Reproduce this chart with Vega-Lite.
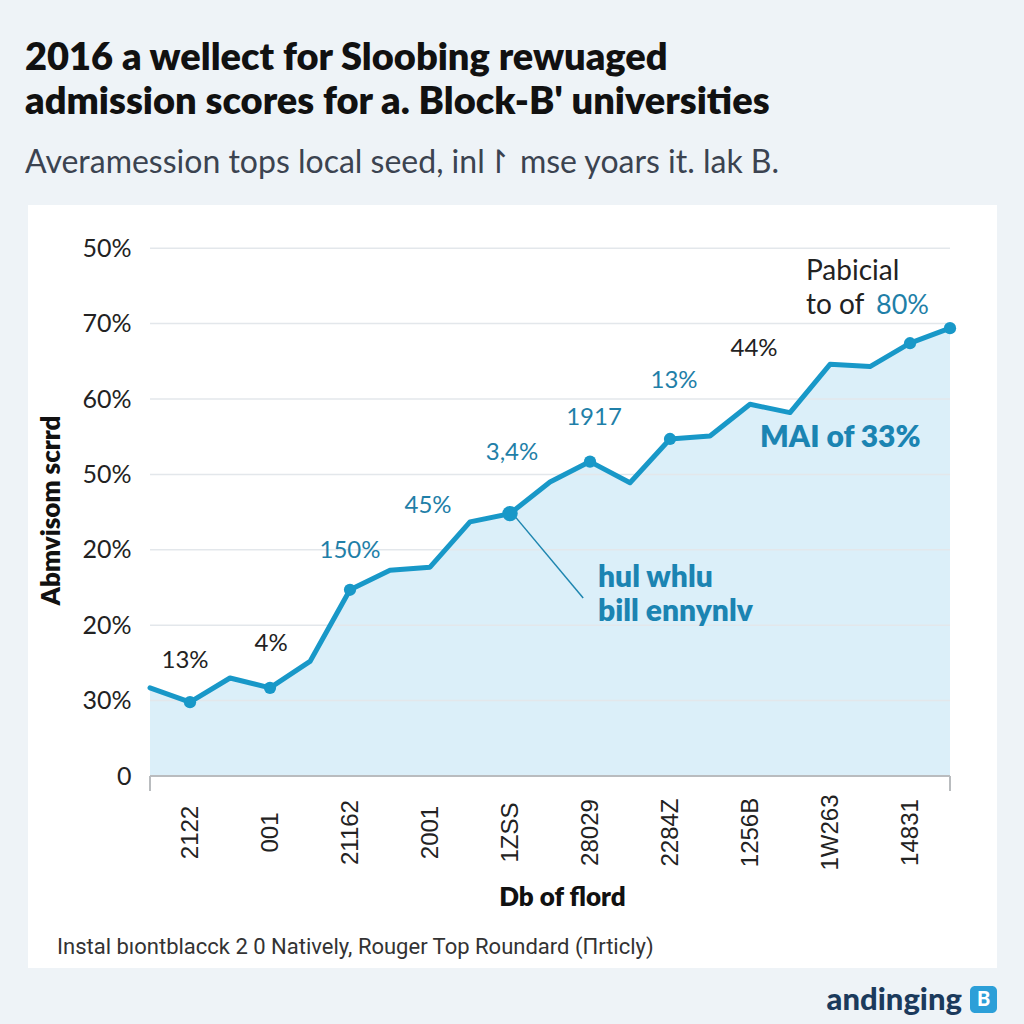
{
  "$schema": "https://vega.github.io/schema/vega-lite/v6.json",
  "width": 969,
  "height": 763,
  "autosize": {"type": "none"},
  "padding": {"left": 28, "top": 205, "right": 27, "bottom": 56},
  "background": "#eef3f7",
  "config": {
    "view": {"stroke": null, "fill": "#ffffff"},
    "font": "Lato"
  },
  "title": {
    "text": ["2016 a wellect for Sloobing rewuaged", "admission scores for a. Block-B' universities"],
    "subtitle": "Averamession tops local seed, inl\u21be mse yoars it. lak B.",
    "anchor": "start",
    "frame": "group",
    "dx": -3,
    "offset": 26,
    "font": "Lato",
    "fontSize": 38,
    "fontWeight": 800,
    "lineHeight": 44,
    "color": "#111111",
    "subtitleFont": "Lato",
    "subtitleFontSize": 32,
    "subtitleColor": "#3b4350",
    "subtitlePadding": 26
  },
  "datasets": {
    "series": [
      {"t": 0, "v": 11.7}, {"t": 1, "v": 9.8}, {"t": 2, "v": 13.0}, {"t": 3, "v": 11.7},
      {"t": 4, "v": 15.2}, {"t": 5, "v": 24.7}, {"t": 6, "v": 27.3}, {"t": 7, "v": 27.7},
      {"t": 8, "v": 33.7}, {"t": 9, "v": 34.8}, {"t": 10, "v": 39.0}, {"t": 11, "v": 41.7},
      {"t": 12, "v": 38.9}, {"t": 13, "v": 44.7}, {"t": 14, "v": 45.1}, {"t": 15, "v": 49.3},
      {"t": 16, "v": 48.2}, {"t": 17, "v": 54.6}, {"t": 18, "v": 54.3}, {"t": 19, "v": 57.4},
      {"t": 20, "v": 59.4}
    ],
    "grid": [{"v": 10}, {"v": 20}, {"v": 30}, {"v": 40}, {"v": 50}, {"v": 60}, {"v": 70}],
    "notes": [
      {"label": "13%", "x": 0.875, "y": 15.25, "kind": "darkc"},
      {"label": "4%", "x": 3.03, "y": 17.5, "kind": "darkc"},
      {"label": "44%", "x": 15.1, "y": 56.6, "kind": "darkc"},
      {"label": "150%", "x": 5.0, "y": 29.8, "kind": "bluec"},
      {"label": "45%", "x": 6.95, "y": 35.8, "kind": "bluec"},
      {"label": "3,4%", "x": 9.05, "y": 42.8, "kind": "bluec"},
      {"label": "1917", "x": 11.1, "y": 47.5, "kind": "bluec"},
      {"label": "13%", "x": 13.1, "y": 52.4, "kind": "bluec"},
      {"label": "Pabicial", "x": 16.4, "y": 66.8, "kind": "darkl"},
      {"label": "to of", "x": 16.4, "y": 62.3, "kind": "darkl"},
      {"label": "80%", "x": 18.15, "y": 62.3, "kind": "bluel"},
      {"label": "MAI of 33%", "x": 15.25, "y": 44.8, "kind": "boldl"},
      {"label": "hul whlu", "x": 11.2, "y": 26.3, "kind": "boldl"},
      {"label": "bill ennynlv", "x": 11.2, "y": 21.8, "kind": "boldl"}
    ],
    "leader": [{"x": 9.05, "y": 34.9, "x2": 10.83, "y2": 23.6}]
  },
  "layer": [
    {
      "data": {"name": "series"},
      "mark": {"type": "area", "color": "#dbeff9", "opacity": 1},
      "encoding": {
        "x": {
          "field": "t", "type": "quantitative",
          "scale": {"domain": [-3.05, 21.175], "nice": false, "zero": false},
          "axis": {
            "orient": "bottom",
            "offset": -192,
            "values": [1, 3, 5, 7, 9, 11, 13, 15, 17, 19],
            "labelExpr": "['2122','001','21162','2001','1ZSS','28029','2284Z','1256B','1W263','14831'][(datum.value-1)/2]",
            "labelAngle": -90,
            "labelAlign": "center",
            "labelBaseline": "middle",
            "labelPadding": 56,
            "labelFont": "Liberation Sans",
            "labelFontSize": 24,
            "labelColor": "#222222",
            "labelOverlap": false,
            "ticks": false,
            "domain": false,
            "grid": false,
            "title": "Db of flord",
            "titleFont": "Lato",
            "titleFontSize": 26,
            "titleFontWeight": 800,
            "titleColor": "#111111",
            "titleX": 534,
            "titleY": 121,
            "titleBaseline": "middle",
            "titleAlign": "center"
          }
        },
        "y": {
          "field": "v", "type": "quantitative",
          "scale": {"domain": [-25.46, 75.73], "nice": false, "zero": false},
          "axis": {
            "orient": "left",
            "offset": -122,
            "values": [0, 10, 20, 30, 40, 50, 60, 70],
            "labelExpr": "['0','30%','20%','20%','50%','60%','70%','50%'][datum.value/10]",
            "labelFont": "Lato",
            "labelFontSize": 25,
            "labelColor": "#222222",
            "labelPadding": 19,
            "labelOverlap": false,
            "ticks": false,
            "domain": false,
            "grid": false,
            "title": "Abmvisom scrrd",
            "titleFont": "Lato",
            "titleFontSize": 26,
            "titleFontWeight": 800,
            "titleColor": "#111111",
            "titleAngle": -90,
            "titleX": -99,
            "titleY": 305,
            "titleAlign": "center",
            "titleBaseline": "middle"
          }
        },
        "y2": {"datum": 0}
      }
    },
    {
      "data": {"name": "grid"},
      "mark": {"type": "rule", "color": "#e3e7eb", "strokeWidth": 1.5},
      "encoding": {
        "x": {"datum": 0, "type": "quantitative"},
        "x2": {"datum": 20},
        "y": {"field": "v", "type": "quantitative"}
      }
    },
    {
      "data": {"values": [{"v": 0}]},
      "mark": {"type": "rule", "color": "#b9bcbf", "strokeWidth": 2},
      "encoding": {
        "x": {"datum": 0, "type": "quantitative"},
        "x2": {"datum": 20},
        "y": {"field": "v", "type": "quantitative"}
      }
    },
    {
      "data": {"values": [{"t": 0}, {"t": 20}]},
      "mark": {"type": "rule", "color": "#b9bcbf", "strokeWidth": 2},
      "encoding": {
        "x": {"field": "t", "type": "quantitative"},
        "y": {"datum": 0, "type": "quantitative"},
        "y2": {"datum": -2}
      }
    },
    {
      "data": {"name": "series"},
      "mark": {"type": "line", "color": "#1898c8", "strokeWidth": 5, "strokeJoin": "round", "strokeCap": "round"},
      "encoding": {
        "x": {"field": "t", "type": "quantitative"},
        "y": {"field": "v", "type": "quantitative"}
      }
    },
    {
      "data": {"name": "leader"},
      "mark": {"type": "rule", "color": "#1e86b0", "strokeWidth": 1.5},
      "encoding": {
        "x": {"field": "x", "type": "quantitative"},
        "y": {"field": "y", "type": "quantitative"},
        "x2": {"field": "x2"},
        "y2": {"field": "y2"}
      }
    },
    {
      "data": {"name": "series"},
      "transform": [{"filter": "indexof([1,3,5,11,13,19,20], datum.t) >= 0"}],
      "mark": {"type": "point", "filled": true, "opacity": 1, "color": "#1898c8", "size": 150},
      "encoding": {
        "x": {"field": "t", "type": "quantitative"},
        "y": {"field": "v", "type": "quantitative"}
      }
    },
    {
      "data": {"name": "series"},
      "transform": [{"filter": "datum.t == 9"}],
      "mark": {"type": "point", "filled": true, "opacity": 1, "color": "#1898c8", "size": 240},
      "encoding": {
        "x": {"field": "t", "type": "quantitative"},
        "y": {"field": "v", "type": "quantitative"}
      }
    },
    {
      "data": {"name": "notes"},
      "transform": [{"filter": "datum.kind == 'darkc'"}],
      "mark": {"type": "text", "font": "Lato", "fontSize": 24, "color": "#222222", "align": "center", "baseline": "middle"},
      "encoding": {
        "x": {"field": "x", "type": "quantitative"},
        "y": {"field": "y", "type": "quantitative"},
        "text": {"field": "label"}
      }
    },
    {
      "data": {"name": "notes"},
      "transform": [{"filter": "datum.kind == 'bluec'"}],
      "mark": {"type": "text", "font": "Lato", "fontSize": 24, "color": "#1f7fa8", "align": "center", "baseline": "middle"},
      "encoding": {
        "x": {"field": "x", "type": "quantitative"},
        "y": {"field": "y", "type": "quantitative"},
        "text": {"field": "label"}
      }
    },
    {
      "data": {"name": "notes"},
      "transform": [{"filter": "datum.kind == 'darkl'"}],
      "mark": {"type": "text", "font": "Lato", "fontSize": 28, "color": "#222222", "align": "left", "baseline": "middle"},
      "encoding": {
        "x": {"field": "x", "type": "quantitative"},
        "y": {"field": "y", "type": "quantitative"},
        "text": {"field": "label"}
      }
    },
    {
      "data": {"name": "notes"},
      "transform": [{"filter": "datum.kind == 'bluel'"}],
      "mark": {"type": "text", "font": "Lato", "fontSize": 27, "color": "#1f7fa8", "align": "left", "baseline": "middle"},
      "encoding": {
        "x": {"field": "x", "type": "quantitative"},
        "y": {"field": "y", "type": "quantitative"},
        "text": {"field": "label"}
      }
    },
    {
      "data": {"name": "notes"},
      "transform": [{"filter": "datum.kind == 'boldl'"}],
      "mark": {"type": "text", "font": "Lato", "fontSize": 30, "fontWeight": 800, "color": "#1b84b2", "align": "left", "baseline": "middle"},
      "encoding": {
        "x": {"field": "x", "type": "quantitative"},
        "y": {"field": "y", "type": "quantitative"},
        "text": {"field": "label"}
      }
    },
    {
      "data": {"values": [{"label": "Instal b\u0131ontblacck 2 0 Natively, Rouger Top Roundard (\u03a0rticly)"}]},
      "mark": {"type": "text", "font": "Roboto", "fontSize": 22, "color": "#333333", "align": "left", "baseline": "middle"},
      "encoding": {
        "x": {"datum": -2.325, "type": "quantitative"},
        "y": {"datum": -22.68, "type": "quantitative"},
        "text": {"field": "label"}
      }
    },
    {
      "data": {"values": [{"label": "andinging"}]},
      "mark": {"type": "text", "font": "Lato", "fontSize": 31, "fontWeight": 900, "color": "#1b3a5c", "align": "right", "baseline": "middle"},
      "encoding": {
        "x": {"datum": 20.3, "type": "quantitative"},
        "y": {"datum": -29.9, "type": "quantitative"},
        "text": {"field": "label"}
      }
    },
    {
      "data": {"values": [{"label": "B"}]},
      "mark": {"type": "rect", "color": "#2c9fd8", "cornerRadius": 5},
      "encoding": {
        "x": {"datum": 20.5, "type": "quantitative"},
        "x2": {"datum": 21.175},
        "y": {"datum": -27.85, "type": "quantitative"},
        "y2": {"datum": -31.43}
      }
    },
    {
      "data": {"values": [{"label": "B"}]},
      "mark": {"type": "text", "font": "Lato", "fontSize": 20, "fontWeight": 900, "color": "#ffffff", "align": "center", "baseline": "middle"},
      "encoding": {
        "x": {"datum": 20.84, "type": "quantitative"},
        "y": {"datum": -29.64, "type": "quantitative"},
        "text": {"field": "label"}
      }
    }
  ]
}
